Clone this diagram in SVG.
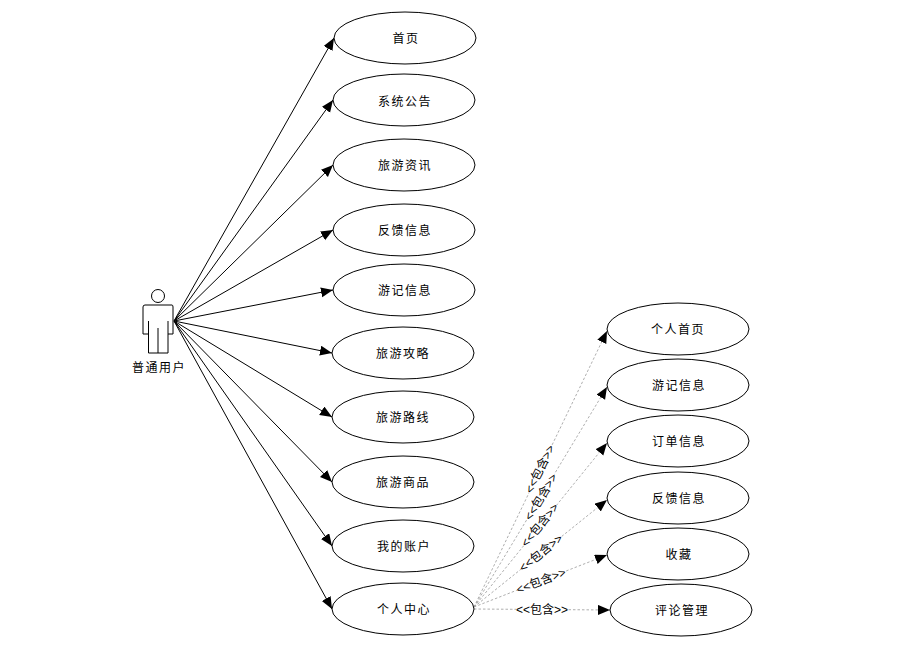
<svg xmlns="http://www.w3.org/2000/svg" width="911" height="668" viewBox="0 0 911 668">
<style>
text{font-family:"Liberation Sans","Noto Sans CJK SC",sans-serif;font-size:12px;fill:#000;text-anchor:middle;letter-spacing:1.5px}
.l{letter-spacing:0}
.n{fill:#fff;stroke:#000;stroke-width:1}
.a{stroke:#000;stroke-width:1;fill:none;marker-end:url(#h)}
.d{stroke:#999;stroke-width:.8;stroke-dasharray:2.500 2;fill:none;marker-end:url(#h)}
.b{fill:#fff}
</style>
<defs><marker id="h" markerUnits="userSpaceOnUse" markerWidth="13" markerHeight="11" refX="12" refY="5" orient="auto"><path d="M0 0L12 5L0 10z" fill="#000"/></marker></defs>
<rect width="911" height="668" fill="#fff"/>
<g id="connectors">
<line class="a" x1="174" y1="321" x2="334" y2="38"/>
<line class="a" x1="174" y1="321" x2="333" y2="100"/>
<line class="a" x1="174" y1="321" x2="333" y2="165"/>
<line class="a" x1="174" y1="321" x2="333" y2="230"/>
<line class="a" x1="174" y1="321" x2="333" y2="290"/>
<line class="a" x1="174" y1="321" x2="332" y2="353"/>
<line class="a" x1="174" y1="321" x2="332" y2="417"/>
<line class="a" x1="174" y1="321" x2="332" y2="482"/>
<line class="a" x1="174" y1="321" x2="332" y2="546"/>
<line class="a" x1="174" y1="321" x2="332" y2="609"/>
<line class="d" x1="474" y1="607" x2="607" y2="331"/>
<line class="d" x1="474" y1="607" x2="607" y2="387"/>
<line class="d" x1="474" y1="607" x2="607" y2="443"/>
<line class="d" x1="474" y1="607" x2="607" y2="500"/>
<line class="d" x1="474" y1="607" x2="607" y2="555"/>
<line class="d" x1="474" y1="609" x2="610" y2="610"/>
<g transform="translate(540 469) rotate(-64)"><rect class="b" x="-26" y="-7" width="52" height="14"/><text class="l" y="4">&lt;&lt;包含&gt;&gt;</text></g>
<g transform="translate(541 497) rotate(-59)"><rect class="b" x="-26" y="-7" width="52" height="14"/><text class="l" y="4">&lt;&lt;包含&gt;&gt;</text></g>
<g transform="translate(540 525) rotate(-51)"><rect class="b" x="-26" y="-7" width="52" height="14"/><text class="l" y="4">&lt;&lt;包含&gt;&gt;</text></g>
<g transform="translate(541 553) rotate(-39)"><rect class="b" x="-26" y="-7" width="52" height="14"/><text class="l" y="4">&lt;&lt;包含&gt;&gt;</text></g>
<g transform="translate(541 581) rotate(-21)"><rect class="b" x="-26" y="-7" width="52" height="14"/><text class="l" y="4">&lt;&lt;包含&gt;&gt;</text></g>
<g transform="translate(542 610)"><rect class="b" x="-26" y="-7" width="52" height="14"/><text class="l" y="4">&lt;&lt;包含&gt;&gt;</text></g>
</g>
<g id="actor">
<circle class="n" cx="158" cy="296" r="6.500"/>
<path class="n" d="M145 305H172Q173 305 173 307V334H168V353H148.500V334H143V307Q143 305 145 305Z"/>
<path d="M148.500 321V334M168 321V334M158 328V353" stroke="#000" fill="none"/>
<text x="159" y="372">普通用户</text>
</g>
<g id="u1"><ellipse class="n" cx="405" cy="38" rx="71" ry="26"/><text x="406" y="43">首页</text></g>
<g id="u2"><ellipse class="n" cx="404" cy="100" rx="71" ry="26"/><text x="405" y="106">系统公告</text></g>
<g id="u3"><ellipse class="n" cx="404" cy="165" rx="71" ry="26"/><text x="405" y="170">旅游资讯</text></g>
<g id="u4"><ellipse class="n" cx="404" cy="230" rx="71" ry="26"/><text x="405" y="235">反馈信息</text></g>
<g id="u5"><ellipse class="n" cx="404" cy="290" rx="71" ry="26"/><text x="405" y="295">游记信息</text></g>
<g id="u6"><ellipse class="n" cx="403" cy="353" rx="71" ry="26"/><text x="403" y="358">旅游攻略</text></g>
<g id="u7"><ellipse class="n" cx="403" cy="417" rx="71" ry="26"/><text x="403" y="422">旅游路线</text></g>
<g id="u8"><ellipse class="n" cx="403" cy="482" rx="71" ry="26"/><text x="403" y="487">旅游商品</text></g>
<g id="u9"><ellipse class="n" cx="403" cy="546" rx="71" ry="26"/><text x="404" y="551">我的账户</text></g>
<g id="u10"><ellipse class="n" cx="403" cy="609" rx="71" ry="26"/><text x="404" y="614">个人中心</text></g>
<g id="r1"><ellipse class="n" cx="678" cy="329" rx="71" ry="26"/><text x="678" y="334">个人首页</text></g>
<g id="r2"><ellipse class="n" cx="678" cy="385" rx="71" ry="26"/><text x="679" y="390">游记信息</text></g>
<g id="r3"><ellipse class="n" cx="678" cy="441" rx="71" ry="26"/><text x="679" y="446">订单信息</text></g>
<g id="r4"><ellipse class="n" cx="678" cy="498" rx="71" ry="26"/><text x="679" y="503">反馈信息</text></g>
<g id="r5"><ellipse class="n" cx="678" cy="554" rx="71" ry="26"/><text x="679" y="559">收藏</text></g>
<g id="r6"><ellipse class="n" cx="681" cy="610" rx="71" ry="26"/><text x="682" y="615">评论管理</text></g>
</svg>
